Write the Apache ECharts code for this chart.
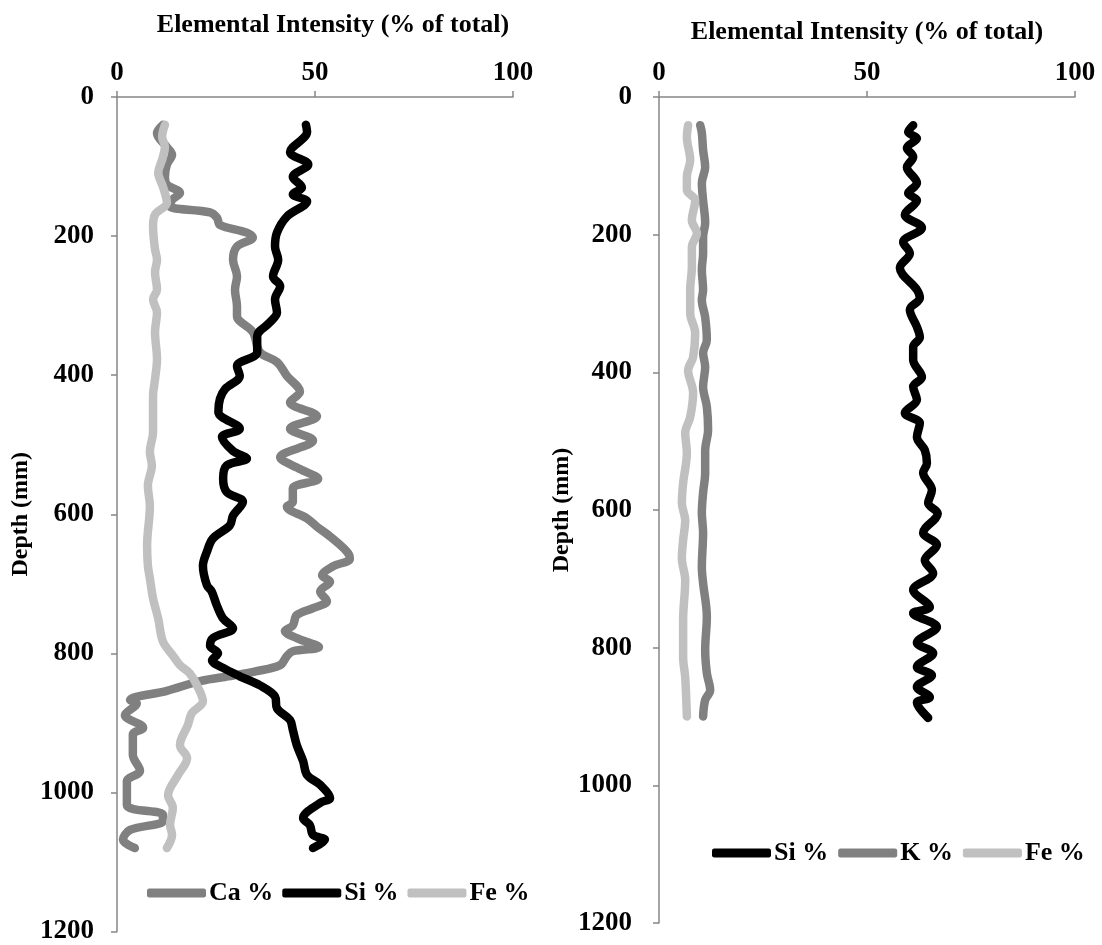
<!DOCTYPE html>
<html>
<head>
<meta charset="utf-8">
<script src="https://cdn.jsdelivr.net/npm/echarts@6/dist/echarts.min.js"></script>
<style>
html,body{margin:0;padding:0;background:#fff;}
#chart{width:1102px;height:945px;}
</style>
</head>
<body>
<div id="chart"></div>
<script>
// [depth (mm), intensity (%)]
var leftCa = [[40,11.6],[52,10.1],[72,12.6],[83,13.9],[97,12.6],[115,12.1],[126,12.6],[138,15.9],[148,13.9],[157,13.4],[166,23.5],[174,25.3],[184,26],[195,32.8],[202,34.3],[215,30.3],[234,29.3],[258,30.3],[277,29.8],[301,30.3],[315,30.3],[338,34.3],[367,36.1],[381,40.4],[401,42.9],[424,46.2],[439,43.7],[459,50.5],[477,43.7],[494,49.5],[518,41.2],[535,46.2],[549,50.8],[563,44.4],[582,44.4],[589,42.9],[606,48],[618,50.5],[632,53.8],[654,58.1],[664,58.8],[675,54.5],[688,51.8],[697,53.8],[711,51.3],[725,53],[735,49.5],[745,45.4],[760,44.4],[768,42.4],[778,45.4],[791,51],[797,44.4],[804,42.9],[817,41.2],[826,35],[832,29.3],[840,21],[854,12.6],[867,3.3],[872,5],[889,2],[907,6.6],[917,4],[946,4],[969,5.8],[984,2.5],[1018,2.5],[1032,11.6],[1041,11.6],[1054,3.3],[1068,1.5],[1080,4.5]];
var leftSi = [[40,47.7],[50,48],[79,43.7],[97,48.3],[115,44.4],[130,46.7],[140,44.4],[150,48],[172,42.9],[195,40.4],[215,39.9],[234,40.7],[258,39.4],[272,41.2],[291,39.9],[310,40.4],[324,38.6],[344,35.4],[367,35.4],[387,30.3],[401,31],[420,27.3],[434,26],[453,25.6],[477,31],[489,26.5],[509,29.3],[520,32.8],[530,27.7],[549,26.8],[568,27.7],[582,31.8],[602,29.3],[616,28.5],[635,24.2],[654,22.7],[674,21.7],[702,22.7],[711,23.9],[731,25.2],[750,26.8],[764,29.3],[778,24.2],[789,23.5],[800,25.5],[810,24],[821,26.8],[833,31],[846,36.1],[862,39.9],[879,40.4],[896,43.7],[910,44.4],[932,45.4],[955,47],[975,48],[989,51.3],[1008,53.8],[1015,51.3],[1037,47],[1047,48.7],[1061,49.5],[1068,52.5],[1080,49.5]];
var leftFe = [[40,12.1],[57,11.4],[72,12.1],[90,11.4],[109,10.4],[129,11.6],[152,12.6],[169,9.6],[186,9.1],[219,9.6],[234,10.1],[252,9.6],[277,10.1],[291,9.1],[310,10.1],[338,9.6],[377,10.1],[406,9.6],[430,9.1],[453,9.1],[482,9.1],[510,8.3],[530,8.8],[559,7.8],[588,8.3],[645,7.6],[674,7.8],[692,8.3],[721,9.1],[750,10.4],[783,11.6],[803,14.1],[817,15.9],[829,18.4],[846,20.2],[869,21.7],[886,18.9],[903,17.9],[932,15.9],[951,17.7],[975,15.4],[1004,12.9],[1022,14.1],[1047,13.4],[1061,13.9],[1080,12.6]];
var rightSi = [[41,61.1],[51,59.9],[60,62],[74,59.6],[87,61.1],[102,59.6],[125,62],[140,59.9],[150,62],[171,59.1],[190,63.2],[211,58.7],[227,60.3],[248,57.9],[280,62],[292,62.7],[309,60.3],[334,62],[349,62.7],[363,61.1],[382,61.1],[407,63.2],[421,61.1],[440,62],[459,59.1],[474,62.7],[494,62],[513,63.9],[532,64.4],[546,63.5],[571,65.6],[590,64.7],[605,67],[633,63.5],[651,66.8],[673,63.9],[692,65.9],[716,61.1],[741,65.1],[750,61.1],[770,66.8],[793,62],[808,65.9],[828,62],[840,65.6],[857,62],[872,65.1],[880,62],[902,64.7]];
var rightK = [[41,9.9],[52,10.3],[77,10.6],[102,11.1],[125,10.3],[150,10.6],[183,11.1],[203,10.6],[227,10.6],[251,10.3],[280,10.6],[295,10.3],[320,11.1],[353,11.5],[372,10.6],[392,11.1],[421,10.6],[450,11.5],[484,11.8],[513,11.1],[546,11.1],[575,10.6],[604,10.3],[633,10.6],[683,10.3],[706,10.6],[755,11.5],[803,11.1],[837,11.5],[862,12.3],[876,11.1],[900,10.6]];
var rightFe = [[41,7],[58,6.7],[92,7.5],[116,6.7],[135,6.7],[150,8.7],[179,7.9],[198,9.1],[218,7.9],[247,7.9],[280,7.5],[314,7.5],[343,8.7],[378,8.2],[397,7],[430,8.2],[465,7.5],[488,6.3],[517,6.7],[561,5.8],[590,5.5],[615,6.3],[644,5.8],[670,5.5],[702,6.3],[760,5.8],[814,5.8],[843,6.3],[900,6.7]];
var leftLegend = ['Ca %','Si %','Fe %'];
var rightLegend = ['Si %','K %','Fe %'];
var xTitle = 'Elemental Intensity (% of total)';
var yTitle = 'Depth (mm)';

function xy(arr){ return arr.map(function(p){ return [p[1], p[0]]; }); }

var FONT = 'Liberation Serif';
var AX = '#868686';
function xAxisCfg(grid){
  return {
    gridIndex: grid, type:'value', position:'top', min:0, max:100, interval:50,
    name: xTitle, nameLocation:'middle', nameGap: grid===0 ? 59 : 52,
    nameTextStyle:{fontFamily:FONT, fontWeight:'bold', fontSize:26, color:'#000',
      padding: grid===0 ? [0,0,0,36] : [0,0,0,0]},
    axisLine:{show:true, lineStyle:{color:AX, width:1.5}},
    axisTick:{show:true, inside:false, length:6, lineStyle:{color:AX, width:1.5}},
    axisLabel:{fontFamily:FONT, fontWeight:'bold', fontSize:27, color:'#000', margin:10},
    splitLine:{show:false}
  };
}
function yAxisCfg(grid){
  return {
    gridIndex: grid, type:'value', inverse:true, min:0, max:1200, interval:200,
    name: yTitle, nameLocation:'middle', nameGap: grid===0 ? 84 : 77, nameRotate:90,
    nameTextStyle:{fontFamily:FONT, fontWeight:'bold', fontSize:24, color:'#000'},
    axisLine:{show:true, lineStyle:{color:AX, width:1.5}},
    axisTick:{show:true, length:6, lineStyle:{color:AX, width:1.5}},
    axisLabel:{fontFamily:FONT, fontWeight:'bold', fontSize:27, color:'#000', margin: grid===0 ? 23 : 27,
      formatter:function(v){ return String(v); }},
    splitLine:{show:false}
  };
}
function ser(name, data, color, xi){
  return {
    name:name, type:'line', xAxisIndex:xi, yAxisIndex:xi, data:xy(data),
    smooth:0.35, showSymbol:false, symbol:'none', animation:false,
    lineStyle:{color:color, width:8.5, cap:'round', join:'round'},
    itemStyle:{color:color}
  };
}
var legendText = {fontFamily:FONT, fontWeight:'bold', fontSize:26, color:'#000', padding:[0,0,0,-2]};
var option = {
  backgroundColor:'#fff',
  animation:false,
  grid:[
    {left:117, top:97, width:396, height:837},
    {left:659, top:97, width:416, height:826}
  ],
  xAxis:[xAxisCfg(0), xAxisCfg(1)],
  yAxis:[yAxisCfg(0), yAxisCfg(1)],
  legend:[
    {data:leftLegend, left:142, top:875, itemWidth:59, itemHeight:9, itemGap:9, icon:'roundRect', textStyle:legendText},
    {data:rightLegend, left:707, top:835, itemWidth:59, itemHeight:9, itemGap:10, icon:'roundRect', textStyle:legendText}
  ],
  series:[
    ser('Ca %', leftCa, '#808080', 0),
    ser('Si %', leftSi, '#000000', 0),
    ser('Fe %', leftFe, '#c0c0c0', 0),
    ser('Si %', rightSi, '#000000', 1),
    ser('K %', rightK, '#808080', 1),
    ser('Fe %', rightFe, '#c0c0c0', 1)
  ]
};
var chart = echarts.init(document.getElementById('chart'), null, {renderer:'canvas'});
chart.setOption(option);
</script>
</body>
</html>
